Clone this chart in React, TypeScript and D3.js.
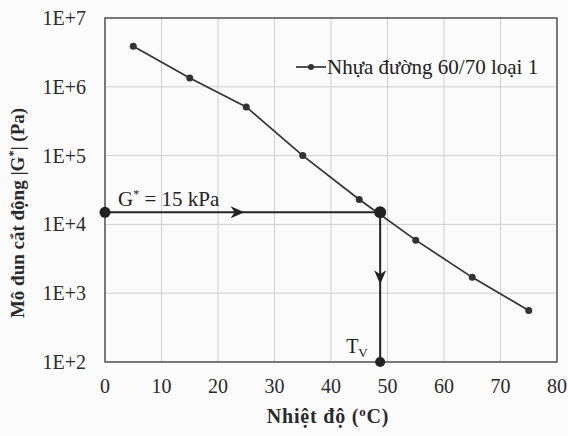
import React from "react";
import * as d3 from "d3";

const temperatures = [5, 15, 25, 35, 45, 55, 65, 75];
const modulus = [3.9e6, 1.34e6, 5.1e5, 1.0e5, 2.3e4, 5.9e3, 1.7e3, 5.6e2];
const xTicks = [0, 10, 20, 30, 40, 50, 60, 70, 80];
const yTicks = [1e2, 1e3, 1e4, 1e5, 1e6, 1e7];
const yTickLabels = ["1E+2", "1E+3", "1E+4", "1E+5", "1E+6", "1E+7"];
const gTarget = 15000;
const tV = 48.7;
const seriesName = "Nhựa đường 60/70 loại 1";

const W = 568, H = 436;
const m = { left: 105, right: 11, top: 18, bottom: 74 };
const FONT = "'Liberation Serif', 'Times New Roman', serif";

export default function App() {
  const x = d3.scaleLinear().domain([0, 80]).range([m.left, W - m.right]);
  const y = d3.scaleLog().domain([1e2, 1e7]).range([H - m.bottom, m.top]);
  const line = d3.line<number>().x((_, i) => x(temperatures[i])).y((d) => y(d));
  const gy = y(gTarget);
  const tx = x(tV);
  const midX = (x(0) + tx) / 2 + 2;
  const downY = gy + 72;
  return (
    <svg width={W} height={H} style={{ position: "absolute", left: 0, top: 0, background: "#fbfbfb" }} fontFamily={FONT}>
      <rect x={0} y={0} width={W} height={H} fill="#fbfbfb" />
      {xTicks.map((t) => (
        <line key={"gx" + t} x1={x(t)} x2={x(t)} y1={y(1e2)} y2={y(1e7)} stroke="#cfcfcf" strokeWidth={1} />
      ))}
      {yTicks.map((t) => (
        <line key={"gy" + t} x1={x(0)} x2={x(80)} y1={y(t)} y2={y(t)} stroke="#cfcfcf" strokeWidth={1} />
      ))}
      <rect x={x(0)} y={y(1e7)} width={x(80) - x(0)} height={y(1e2) - y(1e7)} fill="none" stroke="#555" strokeWidth={1.5} />
      {xTicks.map((t) => (
        <text key={"xt" + t} x={x(t)} y={y(1e2) + 31} textAnchor="middle" fontSize={20} fill="#2a2a2a">{t}</text>
      ))}
      {yTicks.map((t, i) => (
        <text key={"yt" + t} x={x(0) - 19} y={y(t) + 7} textAnchor="end" fontSize={20} fill="#2a2a2a">{yTickLabels[i]}</text>
      ))}
      <path d={line(modulus) || ""} fill="none" stroke="#333" strokeWidth={1.7} />
      {modulus.map((v, i) => (
        <circle key={"p" + i} cx={x(temperatures[i])} cy={y(v)} r={3.5} fill="#333" />
      ))}
      {/* annotation */}
      <line x1={x(0)} x2={tx} y1={gy} y2={gy} stroke="#222" strokeWidth={2} />
      <line x1={tx} x2={tx} y1={gy} y2={y(1e2)} stroke="#222" strokeWidth={2} />
      <path d={`M${midX - 14},${gy - 6} L${midX},${gy} L${midX - 14},${gy + 6} L${midX - 10},${gy} Z`} fill="#222" />
      <path d={`M${tx - 6},${downY - 14} L${tx},${downY} L${tx + 6},${downY - 14} L${tx},${downY - 10} Z`} fill="#222" />
      <circle cx={x(0)} cy={gy} r={5.5} fill="#222" />
      <circle cx={tx} cy={gy} r={6} fill="#222" />
      <circle cx={tx} cy={y(1e2)} r={5} fill="#222" />
      <text x={118} y={gy - 6} fontSize={21} fill="#222">
        G<tspan dy={-8} fontSize={12}>*</tspan><tspan dy={8}> = 15 kPa</tspan>
      </text>
      <text x={tx - 34} y={y(1e2) - 9} fontSize={20} fill="#222">
        T<tspan dy={4} fontSize={13}>V</tspan>
      </text>
      {/* legend */}
      <line x1={296} x2={326} y1={67} y2={67} stroke="#333" strokeWidth={1.7} />
      <circle cx={311} cy={67} r={3} fill="#333" />
      <text x={327} y={74} fontSize={21} fill="#222">{seriesName}</text>
      {/* axis titles */}
      <text x={328} y={423} textAnchor="middle" fontSize={20} fontWeight="bold" letterSpacing={0.8} fill="#2a2a2a">
        Nhiệt độ (<tspan dy={-7} fontSize={13}>o</tspan><tspan dy={7}>C)</tspan>
      </text>
      <text transform={`translate(24,${213}) rotate(-90)`} textAnchor="middle" fontSize={19} fontWeight="bold" fill="#2a2a2a">
        Mô đun cắt động |G<tspan dy={-7} fontSize={12}>*</tspan><tspan dy={7}>| (Pa)</tspan>
      </text>
    </svg>
  );
}
